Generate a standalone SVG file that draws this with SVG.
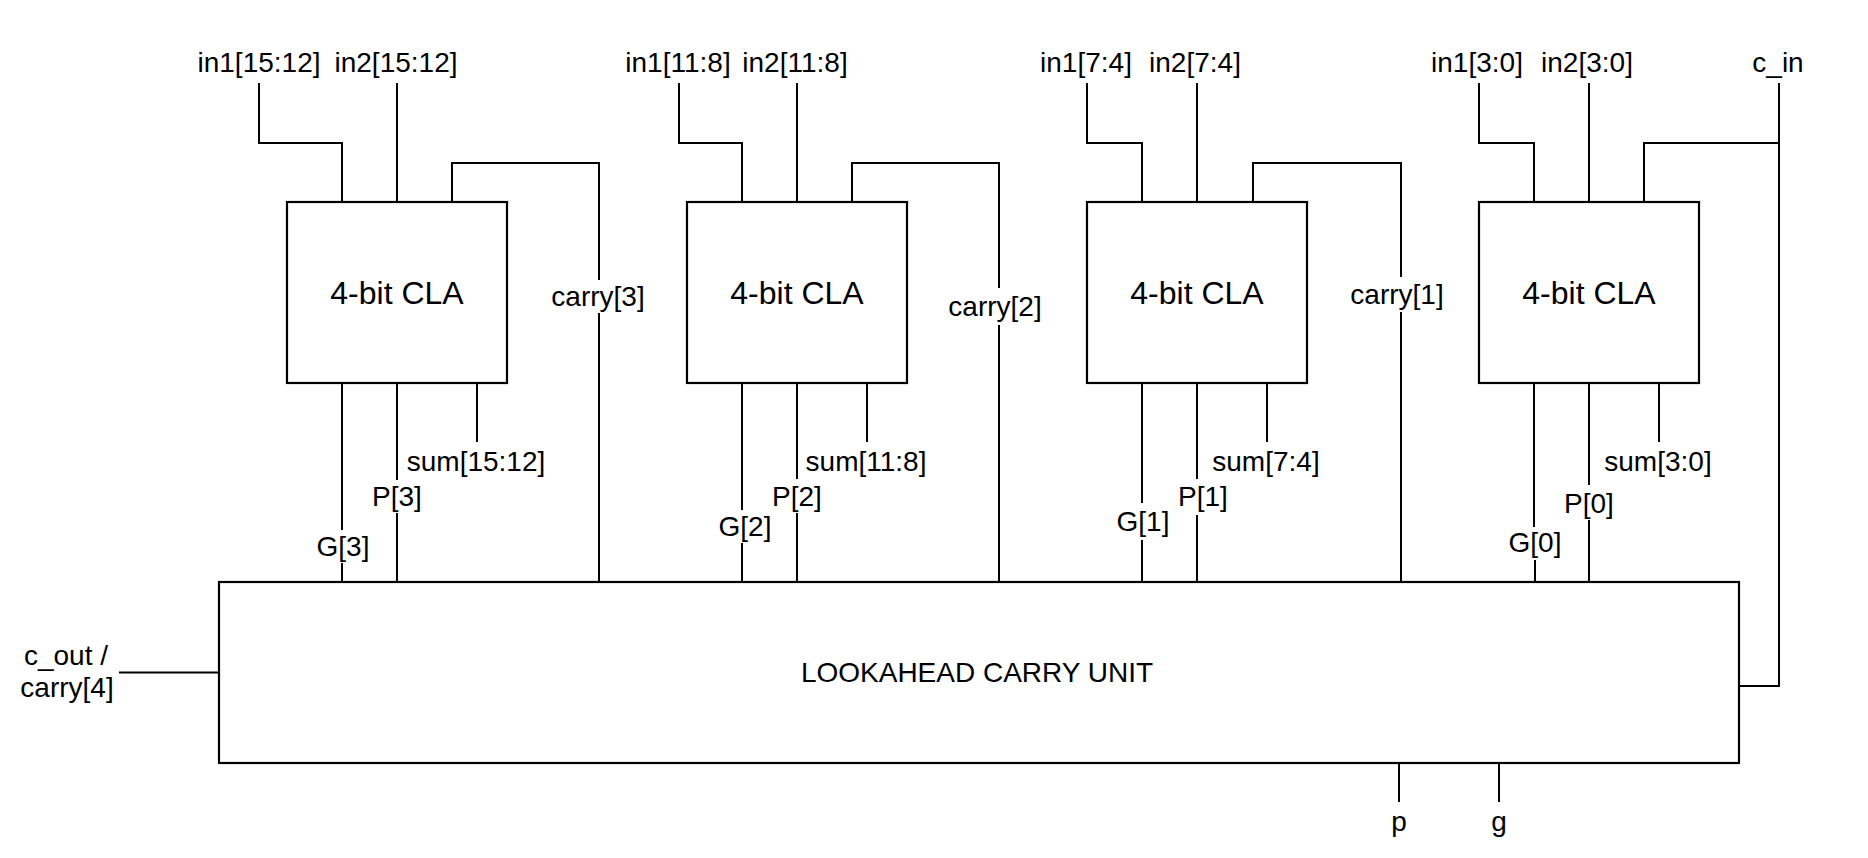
<svg xmlns="http://www.w3.org/2000/svg" width="1868" height="858" viewBox="0 0 1868 858">
<style>
.box{fill:#fff;stroke:#000;stroke-width:2.2}
.w{fill:none;stroke:#000;stroke-width:2}
text{font-family:"Liberation Sans",Arial,Helvetica,sans-serif;fill:#000}
.lb{font-size:28px;text-anchor:middle}
.bt{font-size:32px;text-anchor:middle}
</style>
<rect width="1868" height="858" fill="#fff"/>
<g id="connectors" class="w">
<path d="M259 83V143H342V202"/>
<path d="M397 83V202"/>
<path d="M452 202V163H599V280"/><path d="M599 313V582"/>
<path d="M342 383V530"/><path d="M342 563V582"/>
<path d="M397 383V480"/><path d="M397 513V582"/>
<path d="M477 383V442"/>
<path d="M679 83V143H742V202"/>
<path d="M797 83V202"/>
<path d="M852 202V163H999V288"/><path d="M999 325V582"/>
<path d="M742 383V510"/><path d="M742 543V582"/>
<path d="M797 383V479"/><path d="M797 513V582"/>
<path d="M867 383V442"/>
<path d="M1087 83V143H1142V202"/>
<path d="M1197 83V202"/>
<path d="M1253 202V163H1401V277"/><path d="M1401 312V582"/>
<path d="M1142 383V503"/><path d="M1142 540V582"/>
<path d="M1197 383V479"/><path d="M1197 515V582"/>
<path d="M1267 383V442"/>
<path d="M1479 83V143H1534V202"/>
<path d="M1589 83V202"/>
<path d="M1779 83V686H1739"/><path d="M1779 143H1644V202"/>
<path d="M1534 383V527"/><path d="M1535 560V582"/>
<path d="M1589 383V485"/><path d="M1589 520V582"/>
<path d="M1659 383V442"/>
<path d="M119 672.5H219"/>
<path d="M1399 763V802"/>
<path d="M1499 763V802"/>
</g>
<g id="cla3"><rect class="box" x="287" y="202" width="220" height="181"/><text class="bt" x="397" y="304">4-bit CLA</text></g>
<g id="cla2"><rect class="box" x="687" y="202" width="220" height="181"/><text class="bt" x="797" y="304">4-bit CLA</text></g>
<g id="cla1"><rect class="box" x="1087" y="202" width="220" height="181"/><text class="bt" x="1197" y="304">4-bit CLA</text></g>
<g id="cla0"><rect class="box" x="1479" y="202" width="220" height="181"/><text class="bt" x="1589" y="304">4-bit CLA</text></g>
<g id="lcu"><rect class="box" x="219" y="582" width="1520" height="181"/><text class="lb" x="977" y="682">LOOKAHEAD CARRY UNIT</text></g>
<g id="labels" class="lb">
<text class="lb" x="259" y="72">in1[15:12]</text>
<text class="lb" x="396" y="72">in2[15:12]</text>
<text class="lb" x="678" y="72">in1[11:8]</text>
<text class="lb" x="795" y="72">in2[11:8]</text>
<text class="lb" x="1086" y="72">in1[7:4]</text>
<text class="lb" x="1195" y="72">in2[7:4]</text>
<text class="lb" x="1477" y="72">in1[3:0]</text>
<text class="lb" x="1587" y="72">in2[3:0]</text>
<text class="lb" x="1778" y="72">c_in</text>
<text class="lb" x="598" y="306">carry[3]</text>
<text class="lb" x="995" y="316">carry[2]</text>
<text class="lb" x="1397" y="304">carry[1]</text>
<text class="lb" x="476" y="471">sum[15:12]</text>
<text class="lb" x="866" y="471">sum[11:8]</text>
<text class="lb" x="1266" y="471">sum[7:4]</text>
<text class="lb" x="1658" y="471">sum[3:0]</text>
<text class="lb" x="397" y="506">P[3]</text>
<text class="lb" x="797" y="506">P[2]</text>
<text class="lb" x="1203" y="506">P[1]</text>
<text class="lb" x="1589" y="513">P[0]</text>
<text class="lb" x="343" y="556">G[3]</text>
<text class="lb" x="745" y="536">G[2]</text>
<text class="lb" x="1143" y="531">G[1]</text>
<text class="lb" x="1535" y="552">G[0]</text>
<text class="lb" x="66" y="665">c_out /</text>
<text class="lb" x="67" y="697">carry[4]</text>
<text class="lb" x="1399" y="831">p</text>
<text class="lb" x="1499" y="831">g</text>
</g>
</svg>
